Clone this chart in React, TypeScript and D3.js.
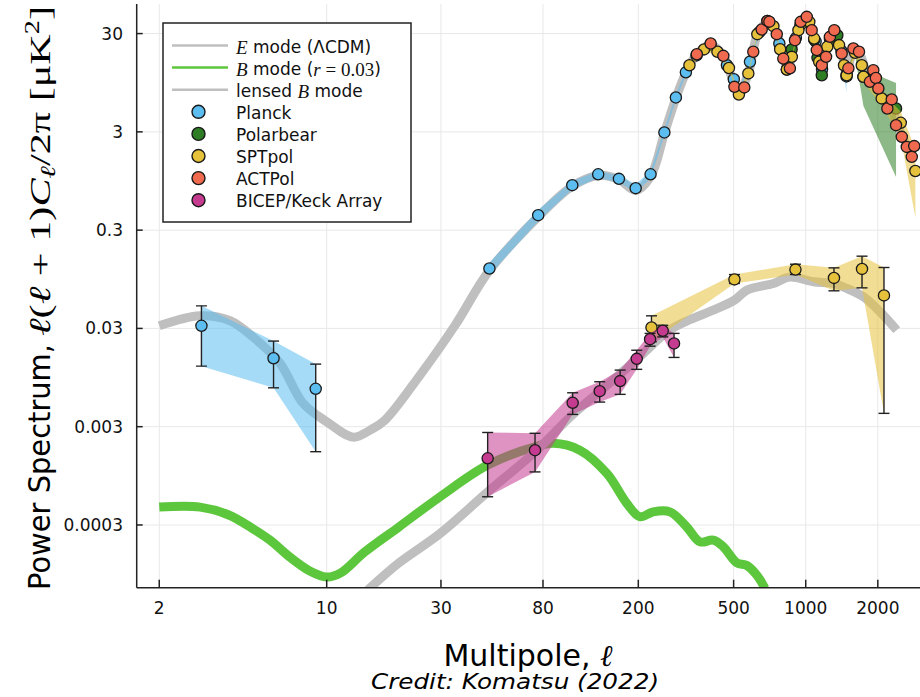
import React from 'react';
import * as d3 from 'd3';

const W = 920;
const H = 697;
const PLOT = { left: 136.7, right: 920, top: 4, bottom: 587.7 };

const xDomain = [1.61, 3000];
const yDomain = [6.9e-5, 60];

const xTickValues = [2, 10, 30, 80, 200, 500, 1000, 2000];
const xTickLabels = ['2', '10', '30', '80', '200', '500', '1000', '2000'];
const yTickValues = [30, 3, 0.3, 0.03, 0.003, 0.0003];
const yTickLabels = ['30', '3', '0.3', '0.03', '0.003', '0.0003'];

// Theory: E mode (LCDM)
const eModeL = [2, 2.96, 3.95, 4.92, 6.38, 7.96, 10.0, 12.9, 15.2, 17.5, 24.5, 34.4, 47.6, 76.4, 106, 136, 166, 195, 225, 257, 287, 316, 351, 401, 453, 504, 526, 576, 628, 692, 757, 806, 843, 902, 1010, 1084, 1138, 1167, 1262, 1316, 1413, 1483, 1581, 1669, 1854, 1963, 2076, 2286, 2383, 2642];
const eModeV = [0.0319, 0.0403, 0.0359, 0.0246, 0.0133, 0.00521, 0.00337, 0.00235, 0.00277, 0.00349, 0.0100, 0.0324, 0.115, 0.41, 0.84, 1.08, 0.98, 0.76, 1.05, 2.9, 6.6, 12, 18.5, 23, 17.8, 9.0, 7.6, 11.8, 29, 39, 30, 17, 13.5, 25, 42, 28, 16, 13.5, 27, 31, 19, 12, 20, 19, 10.3, 10.2, 6.8, 6.2, 3.8, 2.2];

// Theory: primordial B mode (r = 0.03)
const bModeL = [2, 2.96, 3.9, 4.87, 5.8, 7.0, 8.5, 10, 11.4, 14.4, 20, 29.7, 47, 74, 88.3, 114, 148, 179, 203, 231, 271, 318, 362, 411, 453, 515, 568, 624, 676];
const bModeV = [0.000456, 0.000456, 0.000379, 0.000279, 0.00021, 0.000142, 0.000102, 8.85e-5, 9.7e-5, 0.000159, 0.000286, 0.00058, 0.00122, 0.00187, 0.00203, 0.00173, 0.001, 0.000498, 0.000364, 0.000408, 0.000408, 0.000288, 0.000202, 0.00021, 0.00018, 0.000124, 0.000116, 9.3e-5, 6.8e-5];

// Theory: lensed B mode
const lensedL = [14.8, 20, 29.7, 47, 74, 106, 140, 200, 270, 330, 411, 504, 568, 733, 859, 1076, 1300, 1483, 1742, 2042, 2398];
const lensedV = [6.5e-5, 0.000123, 0.000245, 0.00065, 0.00166, 0.00394, 0.00706, 0.015, 0.0288, 0.037, 0.046, 0.0582, 0.0736, 0.086, 0.10, 0.0894, 0.086, 0.0766, 0.0629, 0.0443, 0.0288];

// Data points: [ell, value, lower, upper]
const planckLowL = [
  [3, 0.0319, 0.0124, 0.0509],
  [6, 0.0149, 0.00746, 0.0223],
  [9, 0.00729, 0.00167, 0.013],
];
const planckEE = [
  [47.8, 0.122, 0.105, 0.14], [76.4, 0.426, 0.37, 0.48], [106, 0.861, 0.78, 0.95],
  [136, 1.11, 1.02, 1.2], [166, 0.998, 0.92, 1.08], [195, 0.802, 0.73, 0.88],
  [225, 1.11, 1.0, 1.2], [257, 2.96, 2.75, 3.2], [287, 6.72, 6.3, 7.2],
  [316, 12.1, 11.3, 13], [350, 18, 17, 19], [400, 23, 21.5, 24.5],
  [469, 14.3, 13.4, 15.2], [501, 10.3, 9.5, 11.2], [530, 7.8, 7.1, 8.6],
  [585, 15.5, 14.5, 16.5], [640, 31, 29, 33], [700, 39, 37, 41],
  [776, 23.8, 22.5, 25], [840, 13.5, 12.5, 14.5], [910, 27, 25, 29],
  [1000, 40, 37, 43], [1100, 25, 23, 27], [1170, 13, 12, 14],
  [1280, 28, 26, 30], [1410, 20, 18, 22], [1480, 11, 7.5, 14],
];
const polarbearEE = [
  [834, 12.9, 12.3, 13.5], [873, 20.7, 19.8, 21.6], [950, 37, 35.5, 38.5],
  [1010, 42, 40.5, 43.5], [1085, 26, 25, 27], [1120, 17, 16.3, 17.7],
  [1167, 11.3, 10.8, 11.8], [1262, 26.5, 25.5, 27.5], [1355, 28.9, 27.8, 30],
  [1483, 11.5, 11, 12], [1600, 20, 19, 21], [1742, 10.9, 5.5, 13],
  [2383, 5.19, 1.04, 9.4],
];
const sptpolEE = [
  [327, 14.3, 13.5, 15.1], [376, 20.7, 19.5, 22], [428, 19.6, 18.5, 20.8],
  [478, 13.4, 12.6, 14.2], [526, 7.2, 6.7, 7.7], [576, 11.8, 11, 12.6],
  [628, 29.6, 28, 31.2], [692, 40.4, 38.5, 42.4], [733, 35.7, 34, 37.5],
  [782, 20.8, 19.7, 22], [834, 12.9, 12.1, 13.7], [875, 17.4, 16.4, 18.4],
  [932, 32.5, 30.8, 34.2], [1035, 39.5, 37.5, 41.5], [1084, 26.7, 25.2, 28.2],
  [1138, 15.5, 14.5, 16.5], [1230, 22.0, 20.7, 23.3], [1378, 22.9, 21.3, 24.5],
  [1445, 14.3, 13.1, 15.5], [1483, 11.3, 10.2, 12.4], [1607, 19.1, 17.4, 20.8],
  [1714, 14.3, 12.8, 15.8], [1742, 10.9, 9.6, 12.2], [2076, 6.57, 5.6, 7.6],
  [2494, 3.71, 2.6, 4.8], [2870, 1.20, 0.40, 2.0],
];
const sptpolBB = [
  [227, 0.0307, 0.022, 0.0403], [504, 0.0946, 0.086, 0.106],
  [906, 0.119, 0.106, 0.135], [1312, 0.098, 0.0724, 0.124],
  [1718, 0.121, 0.0776, 0.163], [2122, 0.065, 0.0041, 0.125],
];
const actpolEE = [
  [351, 18.5], [401, 23.8], [453, 17.8], [504, 8.61], [554, 8.5], [604, 19.6],
  [655, 33.0], [692, 40.4], [705, 39.7], [757, 29.6], [806, 16.7], [859, 13.3],
  [902, 25.7], [953, 39.5], [1010, 44.4], [1059, 32.5], [1112, 20.4], [1167, 14.3],
  [1216, 17.4], [1262, 27.8], [1316, 32.5], [1413, 18.8], [1507, 13.3], [1581, 21.2],
  [1669, 19.6], [1854, 9.69], [1915, 12.7], [1963, 10.6], [2010, 8.29], [2192, 5.19],
  [2286, 6.42], [2383, 3.51], [2518, 2.67], [2642, 2.11], [2772, 1.67], [2838, 2.15],
];
const bicepBB = [
  [47.0, 0.00143, 0.000581, 0.00262], [74.1, 0.00173, 0.00104, 0.00257],
  [106.4, 0.00525, 0.004, 0.00664], [138, 0.0069, 0.00534, 0.0086],
  [168, 0.00873, 0.0064, 0.0113], [197, 0.0147, 0.0115, 0.018],
  [224, 0.0233, 0.0198, 0.0267], [253, 0.0284, 0.0246, 0.0323],
  [282, 0.0211, 0.0152, 0.0267],
];

const C_PLANCK = '#5cbdf0';
const C_POLARBEAR = '#2f7d24';
const C_SPTPOL = '#e6c13b';
const C_ACTPOL = '#ef6a4e';
const C_BICEP = '#c53b8f';
const C_THEORY = '#bfbfbf';
const C_BMODE = '#5cc63c';

const SANS = "'DejaVu Sans', sans-serif";
const SERIF = "'Liberation Serif', 'DejaVu Serif', serif";

const series = [
  { data: planckLowL, color: C_PLANCK, bars: true },
  { data: planckEE, color: C_PLANCK, bars: false },
  { data: polarbearEE, color: C_POLARBEAR, bars: false },
  { data: sptpolEE, color: C_SPTPOL, bars: false },
  { data: sptpolBB, color: C_SPTPOL, bars: true },
  { data: actpolEE, color: C_ACTPOL, bars: false },
  { data: bicepBB, color: C_BICEP, bars: true },
];

const legendMarkers = [
  { label: 'Planck', color: C_PLANCK },
  { label: 'Polarbear', color: C_POLARBEAR },
  { label: 'SPTpol', color: C_SPTPOL },
  { label: 'ACTPol', color: C_ACTPOL },
  { label: 'BICEP/Keck Array', color: C_BICEP },
];

export default function App() {
  const x = d3.scaleLog().domain(xDomain).range([PLOT.left, PLOT.right]);
  const y = d3.scaleLog().domain(yDomain).range([PLOT.bottom, PLOT.top]);

  const theoryPath = (ls: number[], vs: number[]) =>
    d3.line().curve(d3.curveCatmullRom.alpha(0.5))(ls.map((l, i) => [x(l), y(vs[i])] as [number, number])) || '';

  const ribbon = d3
    .area<number[]>()
    .x((d) => x(d[0]))
    .y0((d) => y(d[2]))
    .y1((d) => y(d[3]));

  const legendX = 163;
  const legendY = 23;
  const rowH = 22.1;
  const row0 = 45.5;

  return (
    <svg width={W} height={H} style={{ position: 'absolute', left: 0, top: 0, background: '#fff' }}>
      <defs>
        <clipPath id="plotclip">
          <rect x={PLOT.left} y={PLOT.top} width={PLOT.right - PLOT.left} height={PLOT.bottom - PLOT.top} />
        </clipPath>
      </defs>
      <rect x={0} y={0} width={W} height={H} fill="#fff" />

      {/* grid */}
      <g stroke="#e8e8e8" strokeWidth={1}>
        {xTickValues.map((t) => (
          <line key={'gx' + t} x1={x(t)} x2={x(t)} y1={PLOT.top} y2={PLOT.bottom} />
        ))}
        {yTickValues.map((t) => (
          <line key={'gy' + t} x1={PLOT.left} x2={PLOT.right} y1={y(t)} y2={y(t)} />
        ))}
      </g>

      <g clipPath="url(#plotclip)">
        <path d={theoryPath(eModeL, eModeV)} fill="none" stroke={C_THEORY} strokeWidth={9} strokeLinejoin="round" />
        <path d={theoryPath(bModeL, bModeV)} fill="none" stroke={C_BMODE} strokeWidth={9} strokeLinejoin="round" />
        <path d={theoryPath(lensedL, lensedV)} fill="none" stroke={C_THEORY} strokeWidth={9} strokeLinejoin="round" />

        {series.map((s, si) => (
          <g key={'s' + si}>
            {s.data[0].length > 2 && (
              <path d={ribbon(s.data) || ''} fill={s.color} fillOpacity={0.55} stroke="none" />
            )}
            {s.bars &&
              s.data.map((d, i) => (
                <g key={'e' + i} stroke="#222" strokeWidth={1.4}>
                  <line x1={x(d[0])} x2={x(d[0])} y1={y(d[2])} y2={y(d[3])} />
                  <line x1={x(d[0]) - 5.5} x2={x(d[0]) + 5.5} y1={y(d[2])} y2={y(d[2])} />
                  <line x1={x(d[0]) - 5.5} x2={x(d[0]) + 5.5} y1={y(d[3])} y2={y(d[3])} />
                </g>
              ))}
            {s.data.map((d, i) => (
              <circle key={'p' + i} cx={x(d[0])} cy={y(d[1])} r={5.6} fill={s.color} stroke="#1a1a1a" strokeWidth={1.3} />
            ))}
          </g>
        ))}
      </g>

      {/* axes */}
      <g stroke="#222" strokeWidth={1.5}>
        <line x1={PLOT.left} x2={PLOT.left} y1={PLOT.top} y2={PLOT.bottom} />
        <line x1={PLOT.left} x2={PLOT.right} y1={PLOT.bottom} y2={PLOT.bottom} />
        {xTickValues.map((t) => (
          <line key={'tx' + t} x1={x(t)} x2={x(t)} y1={PLOT.bottom} y2={PLOT.bottom - 8} />
        ))}
        {yTickValues.map((t) => (
          <line key={'ty' + t} x1={PLOT.left} x2={PLOT.left + 6} y1={y(t)} y2={y(t)} />
        ))}
      </g>
      <g fontFamily={SANS} fontSize={17} fill="#111">
        {xTickValues.map((t, i) => (
          <text key={'lx' + t} x={x(t)} y={614} textAnchor="middle">
            {xTickLabels[i]}
          </text>
        ))}
        {yTickValues.map((t, i) => (
          <text key={'ly' + t} x={123} y={y(t)} textAnchor="end" dominantBaseline="central">
            {yTickLabels[i]}
          </text>
        ))}
      </g>

      {/* axis labels */}
      <text x={528} y={666} textAnchor="middle" fontFamily={SANS} fontSize={30} fill="#000">
        Multipole,{' '}
        <tspan fontFamily={SERIF} fontStyle="italic">ℓ</tspan>
      </text>
      <text x={515} y={689} textAnchor="middle" fontFamily={SANS} fontStyle="italic" fontSize={21} fill="#000" textLength={288} lengthAdjust="spacingAndGlyphs">
        Credit: Komatsu (2022)
      </text>
      <g transform="translate(50,0) rotate(-90)">
        <text x={-590} y={0} fontFamily={SANS} fontSize={30} fill="#000" textLength={246} lengthAdjust="spacingAndGlyphs">
          Power Spectrum,
        </text>
        <text x={-336} y={0} fontFamily={SERIF} fontSize={30} fill="#000" textLength={330} lengthAdjust="spacingAndGlyphs">
          <tspan fontStyle="italic">ℓ</tspan>
          <tspan>(</tspan>
          <tspan fontStyle="italic">ℓ</tspan>
          <tspan> + 1)</tspan>
          <tspan fontStyle="italic">C</tspan>
          <tspan fontStyle="italic" fontSize={21} dy={5}>ℓ</tspan>
          <tspan dy={-5}>/2π [μK</tspan>
          <tspan fontSize={20} dy={-11}>2</tspan>
          <tspan dy={11}>]</tspan>
        </text>
      </g>

      {/* legend */}
      <rect x={legendX} y={legendY} width={248} height={199} fill="#fff" stroke="#222" strokeWidth={1.5} />
      <g fontFamily={SANS} fontSize={17} fill="#111">
        <line x1={172} x2={228} y1={row0} y2={row0} stroke={C_THEORY} strokeWidth={2.5} />
        <text x={236} y={row0 + 1} dominantBaseline="central">
          <tspan fontFamily={SERIF} fontStyle="italic" fontSize={19}>E</tspan> mode (ΛCDM)
        </text>
        <line x1={172} x2={228} y1={row0 + rowH} y2={row0 + rowH} stroke={C_BMODE} strokeWidth={2.5} />
        <text x={236} y={row0 + rowH + 1} dominantBaseline="central">
          <tspan fontFamily={SERIF} fontStyle="italic" fontSize={19}>B</tspan> mode (
          <tspan fontFamily={SERIF} fontStyle="italic" fontSize={19}>r</tspan>
          <tspan fontFamily={SERIF} fontSize={19}> = 0.03</tspan>)
        </text>
        <line x1={172} x2={228} y1={row0 + 2 * rowH} y2={row0 + 2 * rowH} stroke={C_THEORY} strokeWidth={2.5} />
        <text x={236} y={row0 + 2 * rowH + 1} dominantBaseline="central">
          lensed <tspan fontFamily={SERIF} fontStyle="italic" fontSize={19}>B</tspan> mode
        </text>
        {legendMarkers.map((m, i) => (
          <g key={m.label}>
            <circle cx={198.5} cy={row0 + (3 + i) * rowH} r={6.5} fill={m.color} stroke="#1a1a1a" strokeWidth={1.4} />
            <text x={236} y={row0 + (3 + i) * rowH + 1} dominantBaseline="central">
              {m.label}
            </text>
          </g>
        ))}
      </g>
    </svg>
  );
}
